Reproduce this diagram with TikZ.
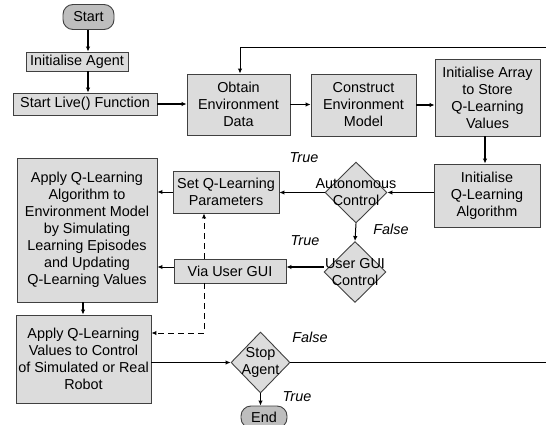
\documentclass[tikz,border=0pt]{standalone}
\usepackage{fontspec}
\setmainfont{Liberation Sans}
\usetikzlibrary{shapes.geometric, arrows.meta, positioning, calc}
\definecolor{boxgray}{RGB}{220, 220, 220}
\definecolor{termgray}{RGB}{190, 190, 190}
\definecolor{edgegray}{RGB}{64, 64, 64}

\tikzset{
  procbox/.style={draw=edgegray, fill=boxgray, align=center, inner sep=1pt, line width=0.9pt,
    font=\fontsize{14.4pt}{17pt}\selectfont},
  termbox/.style={procbox, fill=termgray, rounded corners=10pt},
  decision/.style={diamond, draw=edgegray, fill=boxgray, line width=0.9pt, inner sep=0pt, aspect=1},
  dtext/.style={align=center, font=\fontsize{14.4pt}{17pt}\selectfont},
  flow/.style={-{Latex[length=5pt,width=4.5pt]}, line width=1.6pt},
  thinflow/.style={-{Latex[length=5pt,width=4.5pt]}, line width=1pt},
  dashflow/.style={-{Latex[length=5pt,width=4.5pt]}, line width=1pt, dash pattern=on 6pt off 4pt},
  lbl/.style={font=\fontsize{14.4pt}{17pt}\selectfont\itshape}
}

\begin{document}
\begin{tikzpicture}[x=1pt, y=-1pt]
  \useasboundingbox (0,0) rectangle (546,425);

  % Start and set-up
  \node[termbox, minimum width=51pt, minimum height=25pt] (start) at (88.5,17) {Start};
  \node[procbox, minimum width=102pt, minimum height=19pt] (initagent) at (77,61.5) {Initialise Agent};
  \node[procbox, minimum width=144pt, minimum height=22pt] (startlive) at (85,104) {Start Live() Function};

  % Top row
  \node[procbox, minimum width=103pt, minimum height=61pt] (obtain) at (238.5,104.5) {Obtain\\Environment\\Data};
  \node[procbox, minimum width=105pt, minimum height=62pt] (construct) at (363.5,105) {Construct\\Environment\\Model};
  \node[procbox, minimum width=105pt, minimum height=77pt] (initarray) at (487.5,97.5) {Initialise Array\\to Store\\Q-Learning\\Values};
  \node[procbox, minimum width=106pt, minimum height=63pt] (initq) at (487,195.5) {Initialise\\Q-Learning\\Algorithm};

  % Decisions
  \node[decision, minimum width=62pt, minimum height=61pt,
    label={[dtext]center:Autonomous\\Control}] (auto) at (356,192.5) {};
  \node[decision, minimum width=62pt, minimum height=61pt,
    label={[dtext]center:User GUI\\Control}] (usergui) at (355,272) {};

  % Parameters
  \node[procbox, minimum width=106pt, minimum height=42pt] (setq) at (226,192) {Set Q-Learning\\Parameters};
  \node[procbox, minimum width=112pt, minimum height=24pt] (via) at (230,271) {Via User GUI};

  % Q-Learning
  \node[procbox, minimum width=140pt, minimum height=144pt] (applyalg) at (87,230)
    {Apply Q-Learning\\Algorithm to\\Environment Model\\by Simulating\\Learning Episodes\\and Updating\\Q-Learning Values};
  \node[procbox, minimum width=135pt, minimum height=88pt] (applyval) at (83.5,359)
    {Apply Q-Learning\\Values to Control\\of Simulated or Real\\Robot};

  % Stop
  \node[decision, minimum width=59pt, minimum height=61pt,
    label={[dtext]center:Stop\\Agent}] (stop) at (260.5,362.5) {};
  \node[termbox, minimum width=46pt, minimum height=22pt] (end) at (264,417) {End};

  % Branch labels
  \node[lbl] (autotrue) at (304,158) {True};
  \node[lbl] (autofalse) at (391,229) {False};
  \node[lbl] (guitrue) at (305,241) {True};
  \node[lbl] (stopfalse) at (310,337) {False};
  \node[lbl] (stoptrue) at (297,397) {True};

  \coordinate (dashx) at (204,0);
  \coordinate (loopr) at (548,48);

  % Connectors
  \draw[flow] (start.south -| 88,0) -- (initagent.north -| 88,0);
  \draw[flow] (initagent.south -| 88,0) -- (startlive.north -| 88,0);
  \draw[flow] (startlive.east) -- (obtain.west |- startlive.east);
  \draw[flow] (obtain.east) -- (construct.west |- obtain.east);
  \draw[flow] (construct.east) -- (initarray.west |- construct.east);
  \draw[flow] (initarray.south -| 485,0) -- (initq.north -| 485,0);
  \draw[thinflow] (initq.west |- auto.east) -- (auto.east);
  \draw[thinflow] (auto.west) -- (setq.east |- auto.west);
  \draw[thinflow] (auto.south) -- (usergui.north);
  \draw[flow] (usergui.west |- 0,267) -- (via.east |- 0,267);
  \draw[thinflow] (setq.west) -- (applyalg.east |- setq.west);
  \draw[thinflow] (via.west |- 0,267) -- (applyalg.east |- 0,267);
  \draw[dashflow] (via.north -| dashx) -- (setq.south -| dashx);
  \draw[dashflow] (via.south -| dashx) |- ([yshift=26pt]applyval.east);
  \draw[flow] (applyalg.south -| 83,0) -- (applyval.north -| 83,0);
  \draw[thinflow] (applyval.east |- stop.west) -- (stop.west);
  \draw[thinflow] (stop.south) -- (end.north -| stop.south);
  \draw[thinflow] (stop.east) -| (loopr) -| (obtain.north -| 240,0);
\end{tikzpicture}
\end{document}
